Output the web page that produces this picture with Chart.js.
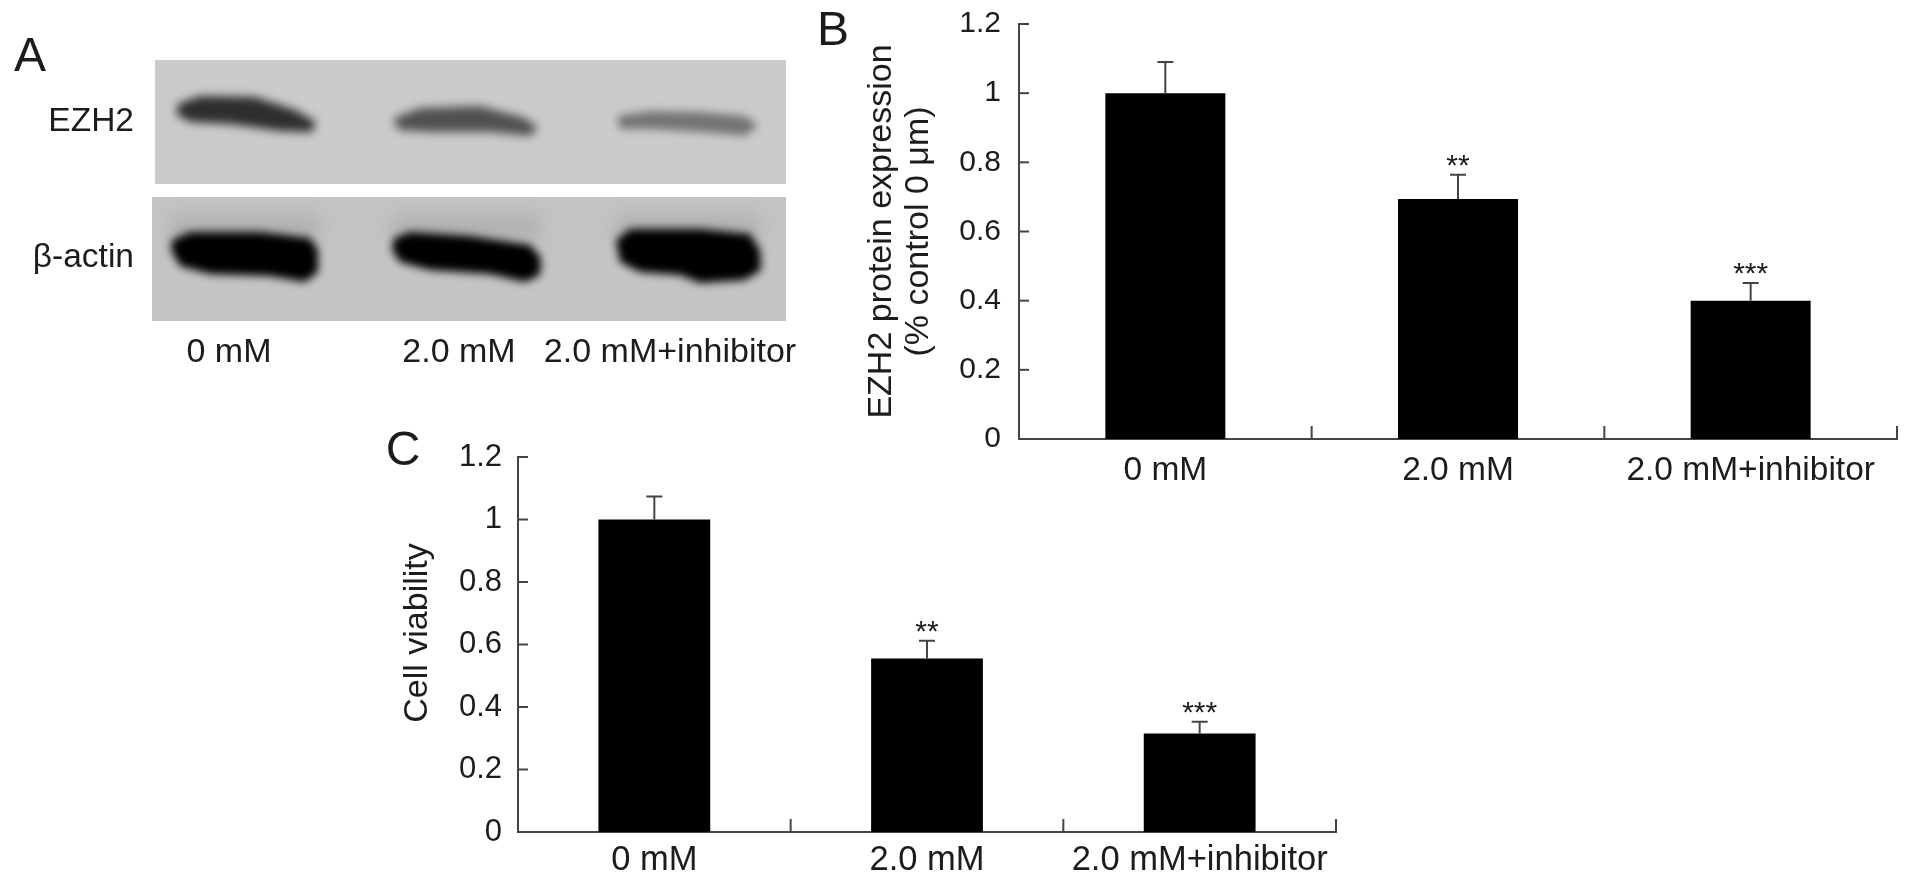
<!DOCTYPE html>
<html>
<head>
<meta charset="utf-8">
<title>EZH2</title>
<script src="https://cdn.jsdelivr.net/npm/chart.js@4"></script>
<style>
  html, body { margin: 0; padding: 0; background: #fff; width: 1913px; height: 885px; overflow: hidden; }
  canvas { position: absolute; filter: blur(0.6px); }
  #chartA { left: 0; top: 0; }
  #chartB { left: 810px; top: 0; }
  #chartC { left: 380px; top: 420px; }
</style>
</head>
<body>
<canvas id="chartA" width="810" height="400"></canvas>
<canvas id="chartB" width="1103" height="500"></canvas>
<canvas id="chartC" width="1000" height="465"></canvas>
<script>
const categories = ["0 mM", "2.0 mM", "2.0 mM+inhibitor"];
const yTickLabels = ["0", "0.2", "0.4", "0.6", "0.8", "1", "1.2"];

const proteinValues = [1.0, 0.694, 0.40];
const proteinErrorTops = [1.09, 0.764, 0.451];
const proteinStars = ["", "**", "***"];

const viabilityValues = [1.0, 0.555, 0.315];
const viabilityErrorTops = [1.074, 0.612, 0.353];
const viabilityStars = ["", "**", "***"];

const blotNames = ["EZH2", "β-actin"];

const FONT = '"Liberation Sans", Arial, sans-serif';
const INK = "#1c1c1c";
const AXIS = "#444";

function text(ctx, str, x, y, size, align) {
  ctx.font = size + "px " + FONT;
  ctx.fillStyle = INK;
  ctx.textAlign = align || "center";
  ctx.textBaseline = "middle";
  ctx.fillText(str, x, y);
}

// error bars, stars, inward ticks, panel letter
const barExtras = {
  id: "barExtras",
  afterDatasetsDraw(chart, args, opts) {
    const { ctx, scales: { x, y }, chartArea } = chart;
    ctx.save();
    ctx.strokeStyle = AXIS;
    ctx.lineWidth = 2;

    // y ticks point into the plot
    y.ticks.forEach((t, i) => {
      const py = y.getPixelForTick(i);
      ctx.beginPath();
      ctx.moveTo(chartArea.left, py);
      ctx.lineTo(chartArea.left + 10, py);
      ctx.stroke();
    });

    // x ticks sit between the categories
    categories.forEach((c, i) => {
      const px = x.getPixelForValue(i) + (x.getPixelForValue(1) - x.getPixelForValue(0)) / 2;
      ctx.beginPath();
      ctx.moveTo(px, chartArea.bottom);
      ctx.lineTo(px, chartArea.bottom - 13);
      ctx.stroke();
    });

    opts.errorTops.forEach((top, i) => {
      const px = x.getPixelForValue(i);
      const py = y.getPixelForValue(top);
      ctx.beginPath();
      ctx.moveTo(px, y.getPixelForValue(chart.data.datasets[0].data[i]));
      ctx.lineTo(px, py);
      ctx.moveTo(px - 8, py);
      ctx.lineTo(px + 8, py);
      ctx.stroke();
      if (opts.stars[i]) text(ctx, opts.stars[i], px, py - 8, 30);
    });

    text(ctx, opts.letter[0], opts.letter[1], opts.letter[2], 48);
    if (opts.sideTitle) {
      ctx.translate(opts.sideTitle[1], opts.sideTitle[2]);
      ctx.rotate(-Math.PI / 2);
      text(ctx, opts.sideTitle[0], 0, 0, 34);
    }
    ctx.restore();
  }
};

function barChart(id, values, cfg) {
  return new Chart(document.getElementById(id), {
    type: "bar",
    data: {
      labels: categories,
      datasets: [{ data: values, backgroundColor: "#000", categoryPercentage: 1, barPercentage: 0.41 }]
    },
    plugins: [barExtras],
    options: {
      responsive: false,
      animation: false,
      layout: { padding: cfg.padding },
      plugins: {
        legend: { display: false },
        tooltip: { enabled: false },
        barExtras: { errorTops: cfg.errorTops, stars: cfg.stars, letter: cfg.letter, sideTitle: cfg.sideTitle }
      },
      scales: {
        x: {
          afterFit: s => { s.height = cfg.xHeight; },
          grid: { display: false },
          border: { color: AXIS, width: 2 },
          ticks: { color: INK, font: { family: FONT, size: cfg.xFont }, padding: cfg.xPad, autoSkip: false, maxRotation: 0 }
        },
        y: {
          min: 0,
          max: 1.2,
          // paddingTop 0 so layout.padding alone sets where the axis starts
          afterFit: s => { s.width = cfg.yWidth; s.paddingTop = 0; s.paddingBottom = 0; },
          grid: { display: false },
          border: { color: AXIS, width: 2 },
          title: cfg.title,
          ticks: {
            stepSize: 0.2,
            color: INK,
            font: { family: FONT, size: cfg.yFont },
            padding: cfg.yPad,
            callback: (v, i) => yTickLabels[i]
          }
        }
      }
    }
  });
}

barChart("chartB", proteinValues, {
  padding: { top: 24, right: 16 },
  xHeight: 61,
  yWidth: 209,
  xFont: 33.5,
  yFont: 30,
  xPad: 4,
  yPad: 10,
  errorTops: proteinErrorTops,
  stars: proteinStars,
  letter: ["B", 23, 32],
  title: {
    display: true,
    text: ["EZH2 protein expression", "(% control 0 μm)"],
    color: INK,
    font: { family: FONT, size: 34, lineHeight: 1.1 },
    padding: { top: 53, bottom: 0 }
  }
});

barChart("chartC", viabilityValues, {
  padding: { top: 37, right: 44 },
  xHeight: 53,
  yWidth: 138,
  xFont: 34.5,
  yFont: 31,
  xPad: 0,
  yPad: 8,
  errorTops: viabilityErrorTops,
  stars: viabilityStars,
  letter: ["C", 23, 32],
  sideTitle: ["Cell viability", 38, 213]
});

// ======================
// PANEL A (blot)
// ======================

const blotPanel = {
  id: "blotPanel",
  beforeDraw(chart) {
    const ctx = chart.ctx;
    ctx.save();

    // membrane backgrounds, clipped so the blur stays inside
    function membrane(x, y, w, h, bg, draw) {
      ctx.save();
      ctx.beginPath();
      ctx.rect(x, y, w, h);
      ctx.clip();
      ctx.fillStyle = bg;
      ctx.fillRect(x, y, w, h);
      draw();
      ctx.restore();
    }

    function blob(pts, color, blur) {
      ctx.filter = "blur(" + blur + "px)";
      ctx.fillStyle = color;
      ctx.beginPath();
      pts.forEach((p, i) => i ? ctx.lineTo(p[0], p[1]) : ctx.moveTo(p[0], p[1]));
      ctx.closePath();
      ctx.fill();
      ctx.filter = "none";
    }

    membrane(155, 60, 631, 124, "#cbcbcb", () => {
      blob([[178, 104], [200, 96], [255, 97], [295, 110], [316, 122], [312, 132], [280, 131], [230, 124], [190, 122], [176, 114]], "#2e2e2e", 5);
      blob([[394, 118], [420, 108], [480, 106], [525, 118], [538, 128], [530, 136], [490, 132], [430, 132], [398, 130]], "#505050", 5);
      blob([[617, 116], [650, 111], [700, 112], [745, 116], [758, 125], [745, 136], [700, 132], [650, 129], [620, 129]], "#747474", 4);
    });
    membrane(152, 197, 634, 124, "#c4c4c4", () => {
      blob([[170, 215], [320, 215], [320, 240], [170, 240]], "#b0b0b0", 9);
      blob([[392, 215], [540, 215], [540, 240], [392, 240]], "#b0b0b0", 9);
      blob([[615, 215], [760, 215], [760, 240], [615, 240]], "#b0b0b0", 9);
      blob([[172, 240], [190, 232], [260, 232], [310, 238], [318, 250], [318, 272], [305, 282], [270, 276], [210, 274], [180, 266], [171, 250]], "#000", 4);
      blob([[394, 238], [410, 232], [470, 236], [530, 245], [541, 258], [540, 275], [525, 282], [490, 274], [430, 270], [400, 262], [392, 250]], "#000", 4);
      blob([[616, 240], [630, 229], [700, 229], [750, 234], [760, 250], [761, 270], [745, 280], [700, 283], [680, 275], [640, 272], [620, 262]], "#000", 4);
    });

    text(ctx, "A", 30, 58, 48);
    text(ctx, blotNames[0], 134, 122, 33.5, "right");
    text(ctx, blotNames[1], 134, 258, 33.5, "right");
    text(ctx, categories[0], 229, 353, 34);
    text(ctx, categories[1], 459, 353, 34);
    text(ctx, categories[2], 670, 353, 34);
    ctx.restore();
  }
};

new Chart(document.getElementById("chartA"), {
  type: "bar",
  data: { labels: categories, datasets: [{ data: [] }] },
  plugins: [blotPanel],
  options: {
    responsive: false,
    animation: false,
    plugins: { legend: { display: false }, tooltip: { enabled: false } },
    scales: { x: { display: false }, y: { display: false } }
  }
});
</script>
</body>
</html>
